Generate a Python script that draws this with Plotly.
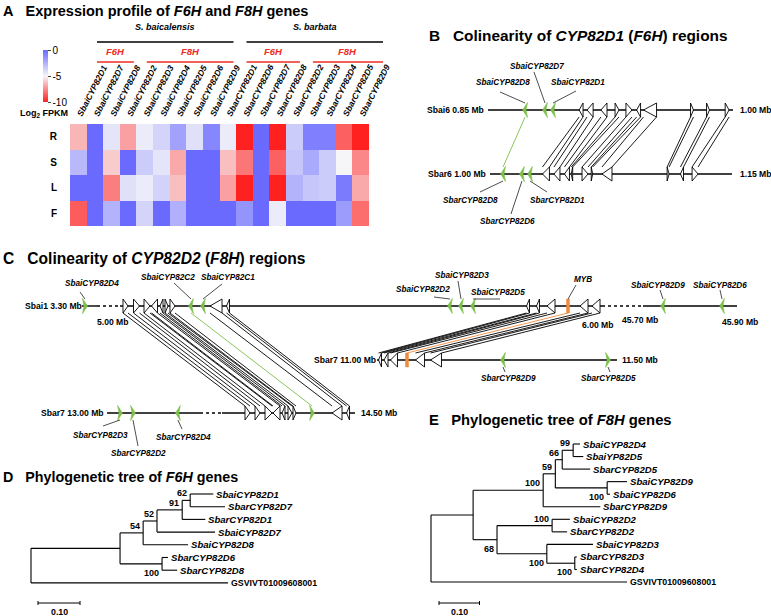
import plotly.graph_objects as go

FONT = "Liberation Sans, Arial, Helvetica, sans-serif"
W, H = 771, 616

# ======================= DATA =======================
# ---- Panel A: expression heatmap (log2 FPKM) ----
tissues = ["R", "S", "L", "F"]
heat_genes = ["SbaiCYP82D1", "SbaiCYP82D7", "SbaiCYP82D8", "SbaiCYP82D2", "SbaiCYP82D3",
              "SbaiCYP82D4", "SbaiCYP82D5", "SbaiCYP82D6", "SbaiCYP82D9",
              "SbarCYP82D1", "SbarCYP82D6", "SbarCYP82D7", "SbarCYP82D8", "SbarCYP82D2",
              "SbarCYP82D3", "SbarCYP82D4", "SbarCYP82D5", "SbarCYP82D9"]
fpkm_R = [-6.5, 0.0, -4.4, -7.0, -4.6, -3.8, -2.0, -4.2, -1.0, -4.6, -10.0, 0.0, -10.0, -3.5, -0.8, -0.8, -8.5, -10.0]
fpkm_S = [-2.8, 0.0, -6.0, 0.0, -3.5, -4.4, -6.8, 0.0, 0.0, -6.3, -8.0, 0.0, -8.5, -3.3, -2.3, -3.5, -5.0, -7.6]
fpkm_L = [0.0, 0.0, -7.8, -4.2, -4.6, -3.7, -6.3, 0.0, 0.0, -7.0, -10.0, 0.0, -10.0, -2.6, -3.3, -3.5, -0.6, -6.8]
fpkm_F = [-8.6, 0.0, -2.6, 0.0, -3.8, 0.0, -2.5, 0.0, 0.0, 0.0, -1.5, 0.0, -4.6, 0.0, 0.0, 0.0, -1.8, -8.2]
species_groups = [("S. baicalensis", 0, 8), ("S. barbata", 9, 17)]
family_groups = [("F6H", 0, 2), ("F8H", 3, 8), ("F6H", 9, 12), ("F8H", 13, 17)]
cbar_ticks = [0, -5, -10]

# ---- Panels B/C: gene positions (name, Mb, length kb, strand, kind g=CYP82 w=other o=MYB) ----
sbai6_genes = [
    ("SbaiCYP82D8", 0.8727, 3.0, -1, "g"), ("SbaiCYP82D7", 0.8849, 3.0, -1, "g"),
    ("SbaiCYP82D1", 0.8898, 3.0, -1, "g"),
    ("", 0.9070, 2.4, -1, "w"), ("", 0.9125, 3.7, -1, "w"), ("", 0.9210, 3.7, -1, "w"),
    ("", 0.9290, 2.4, 1, "w"), ("", 0.9363, 3.7, 1, "w"), ("", 0.9422, 2.4, -1, "w"),
    ("", 0.9492, 8.0, -1, "w"), ("", 0.9749, 1.8, 1, "w"), ("", 0.9847, 1.8, 1, "w"),
    ("", 0.9964, 2.4, 1, "w"),
]
sbar6_genes = [
    ("SbarCYP82D8", 1.0081, 3.0, -1, "g"), ("SbarCYP82D6", 1.0198, 3.0, -1, "g"),
    ("SbarCYP82D1", 1.0248, 3.0, -1, "g"),
    ("", 1.0347, 4.3, -1, "w"), ("", 1.0415, 3.7, -1, "w"), ("", 1.0477, 3.1, -1, "w"),
    ("", 1.0508, 0.9, -1, "w"), ("", 1.0589, 3.7, 1, "w"), ("", 1.0632, 0.9, 1, "w"),
    ("", 1.0725, 6.2, -1, "w"), ("", 1.1104, 1.2, 1, "w"), ("", 1.1190, 1.9, -1, "w"),
    ("", 1.1271, 3.7, 1, "w"),
]
links_B = [(0, 0), (3, 3), (4, 4), (5, 5), (6, 6), (7, 7), (8, 8), (9, 9), (10, 10), (11, 11), (12, 12)]

sbai1_genes = [
    ("SbaiCYP82D4", 3.306, 10, 1, "g"),
    ("", 5.0114, 10.4, 1, "w"), ("", 5.0342, 12.4, 1, "w"), ("", 5.0560, 12.4, 1, "w"),
    ("", 5.0716, 12.4, -1, "w"), ("", 5.0861, 6.2, -1, "w"), ("", 5.0965, 6.2, 1, "w"),
    ("", 5.1089, 10.4, 1, "w"),
    ("SbaiCYP82C2", 5.1473, 10, -1, "g"), ("SbaiCYP82C1", 5.1722, 10, -1, "g"),
    ("", 5.1992, 24.9, -1, "w"), ("", 5.2241, 6.2, -1, "w"),
    ("SbaiCYP82D2", 5.6846, 10, -1, "g"), ("SbaiCYP82D3", 5.7075, 10, -1, "g"),
    ("SbaiCYP82D5", 5.7324, 10, -1, "g"),
    ("", 5.8465, 6.2, -1, "w"), ("", 5.8672, 6.2, -1, "w"), ("", 5.8942, 16.6, -1, "w"),
    ("MYB", 5.9295, 6.2, 0, "o"),
    ("", 5.9627, 16.6, -1, "w"), ("", 5.9876, 16.6, -1, "w"),
    ("SbaiCYP82D9", 45.7426, 10, -1, "g"), ("SbaiCYP82D6", 45.8681, 10, -1, "g"),
]
sbar7a_genes = [
    ("", 11.0063, 6.2, -1, "w"), ("", 11.0188, 8.3, -1, "w"), ("", 11.0354, 14.6, -1, "w"),
    ("", 11.0625, 6.2, 0, "o"), ("", 11.0896, 18.8, -1, "w"), ("", 11.1229, 22.9, -1, "w"),
    ("SbarCYP82D9", 11.2625, 10, -1, "g"), ("SbarCYP82D5", 11.4813, 10, 1, "g"),
]
sbar7b_genes = [
    ("SbarCYP82D3", 13.0271, 10, 1, "g"), ("SbarCYP82D2", 13.0542, 10, 1, "g"),
    ("SbarCYP82D4", 13.1479, 10, -1, "g"),
    ("", 14.2761, 10.4, 1, "w"), ("", 14.2970, 10.4, 1, "w"), ("", 14.3199, 14.6, 1, "w"),
    ("", 14.3365, 14.6, -1, "w"), ("", 14.3511, 6.2, -1, "w"), ("", 14.3646, 8.3, 1, "w"),
    ("", 14.3740, 6.2, 1, "w"), ("", 14.4105, 10, 1, "g"),
    ("", 14.4626, 20.8, -1, "w"), ("", 14.4855, 6.2, -1, "w"),
]
links_C_b = [(1, 3), (2, 4), (3, 5), (4, 6), (5, 7), (6, 8), (7, 9), (8, 10), (10, 11), (11, 12)]
links_C_a = [(15, 0), (16, 1), (17, 2), (18, 3), (19, 4), (20, 5)]

# ---- Panels D/E: trees (node, parent, branch length, bootstrap) ----
treeD_nodes = ["SbaiCYP82D1", "SbarCYP82D7", "SbarCYP82D1", "SbaiCYP82D7", "SbaiCYP82D8",
               "SbarCYP82D6", "SbarCYP82D8", "GSVIVT01009608001",
               "n62", "n91", "n52", "n54", "n100", "n1", "root"]
treeD_parent = ["n62", "n62", "n91", "n52", "n54", "n100", "n100", "root",
                "n91", "n52", "n54", "n1", "n1", "root", None]
treeD_length = [0.055, 0.083, 0.055, 0.138, 0.107, 0.014, 0.036, 0.469,
                0.019, 0.060, 0.033, 0.055, 0.100, 0.212, 0.0]
treeD_support = [None] * 8 + [62, 91, 52, 54, 100, None, None]

treeE_nodes = ["SbaiCYP82D4", "SbaiYP82D5", "SbarCYP82D5", "SbaiCYP82D9", "SbaiCYP82D6",
               "SbarCYP82D9", "SbaiCYP82D2", "SbarCYP82D2", "SbaiCYP82D3", "SbarCYP82D3",
               "SbarCYP82D4", "GSVIVT01009608001",
               "n99", "n66", "n100a", "n59", "n100b", "n100c", "n100d", "n100e", "n68", "ntop", "root"]
treeE_parent = ["n99", "n99", "n66", "n100a", "n100a", "n100b", "n100c", "n100c", "n100e",
                "n100d", "n100d", "root",
                "n66", "n59", "n59", "n100b", "ntop", "n68", "n100e", "n68", "ntop", "root", None]
treeE_length = [0.017, 0.025, 0.069, 0.049, 0.007, 0.141, 0.044, 0.037, 0.114, 0.005, 0.005, 0.484,
                0.027, 0.017, 0.128, 0.030, 0.173, 0.136, 0.069, 0.123, 0.059, 0.104, 0.0]
treeE_support = [None] * 12 + [99, 66, 100, 59, 100, 100, 100, 100, 68, None, None]

# ======================= LAYOUT CONSTANTS =======================
HX0, HX1, HY0, HY1 = 70, 369, 124, 226
COLW = (HX1 - HX0) / len(heat_genes)
GREEN, ORANGE, RED = "#7cbf4a", "#f08a3c", "#ee2b24"

TRK = {
    "sbai6": dict(y=110, segs=[(0.85, 1.00, 488, 733)]),
    "sbar6": dict(y=174, segs=[(1.00, 1.15, 490, 732)]),
    "sbai1": dict(y=306, segs=[(3.30, 3.33, 82, 97), (5.00, 6.00, 120, 602), (45.70, 45.90, 643, 737)]),
    "sbar7a": dict(y=360, segs=[(11.00, 11.50, 377, 617)]),
    "sbar7b": dict(y=413, segs=[(13.00, 13.194, 107, 200), (14.223, 14.50, 222, 355)]),
}
GENES = {"sbai6": sbai6_genes, "sbar6": sbar6_genes, "sbai1": sbai1_genes,
         "sbar7a": sbar7a_genes, "sbar7b": sbar7b_genes}

fig = go.Figure()
ann = []


def txt(x, y, s, size, xanchor="center", color="black", yanchor="middle"):
    ann.append(dict(x=x, y=y, xref="x2", yref="y2", text=s, showarrow=False,
                    xanchor=xanchor, yanchor=yanchor, borderpad=0,
                    font=dict(family=FONT, size=size, color=color)))


def line_trace(xs, ys, color="black", width=1.0, dash="solid"):
    fig.add_trace(go.Scatter(x=xs, y=ys, mode="lines", xaxis="x2", yaxis="y2",
                             line=dict(color=color, width=width, dash=dash),
                             hoverinfo="skip", connectgaps=False))


# ======================= PANEL A =======================
fig.add_trace(go.Heatmap(
    z=[fpkm_R, fpkm_S, fpkm_L, fpkm_F], x=list(range(len(heat_genes))), y=list(range(len(tissues))),
    zmin=-10, zmax=0,
    colorscale=[[0, "rgb(255,32,32)"], [0.5, "rgb(246,246,248)"], [1, "rgb(106,106,255)"]],
    colorbar=dict(x=43 / W, xanchor="left", y=1 - 50 / H, yanchor="top", len=52 / H, lenmode="fraction",
                  thickness=5, ticks="outside", ticklen=3, tickwidth=1, outlinewidth=0,
                  xpad=0, ypad=0, tickvals=cbar_ticks, ticktext=[str(v) for v in cbar_ticks],
                  tickfont=dict(family=FONT, size=10, color="black")),
    hoverinfo="skip"))

txt(44, 113, "<b>Log<sub>2</sub> FPKM</b>", 9)

for name, c0, c1 in species_groups:
    xa = HX0 + c0 * COLW + 27
    xb = HX0 + (c1 + 1) * COLW + 14
    line_trace([xa, xb], [42, 42], "black", 1.5)
    txt((xa + xb) / 2, 27, "<b><i>%s</i></b>" % name, 9)
for name, c0, c1 in family_groups:
    xa = HX0 + c0 * COLW + 27
    xb = HX0 + (c1 + 1) * COLW + 14
    line_trace([xa, xb], [62, 62], RED, 1.5)
    txt((xa + xb) / 2, 51, "<b><i>%s</i></b>" % name, 9.5, color=RED)


# ======================= PANELS B & C (tracks) =======================
def mb2px(track, mb):
    segs = TRK[track]["segs"]
    for m0, m1, p0, p1 in segs:
        if m0 - 1e-6 <= mb <= m1 + 1e-6:
            return p0 + (mb - m0) / (m1 - m0) * (p1 - p0), (p1 - p0) / ((m1 - m0) * 1000.0)
    m0, m1, p0, p1 = segs[-1]
    return p0 + (mb - m0) / (m1 - m0) * (p1 - p0), (p1 - p0) / ((m1 - m0) * 1000.0)


def gene_geom(track, i):
    name, mb, kb, strand, kind = GENES[track][i]
    xc, ppk = mb2px(track, mb)
    w = max(kb * ppk, 1.3)
    return xc, w, strand, kind


solid_x, solid_y, dot_x, dot_y = [], [], [], []
for tk, t in TRK.items():
    segs = t["segs"]
    for k, (m0, m1, p0, p1) in enumerate(segs):
        solid_x += [p0, p1, None]
        solid_y += [t["y"], t["y"], None]
        if k + 1 < len(segs):
            dot_x += [p1, segs[k + 1][2], None]
            dot_y += [t["y"], t["y"], None]
line_trace(solid_x, solid_y, "black", 1.4)
line_trace(dot_x, dot_y, "black", 1.4, "dot")

# links
lk = {"black": ([], []), GREEN: ([], []), ORANGE: ([], [])}
for top, bot, pairs in [("sbai6", "sbar6", links_B), ("sbai1", "sbar7b", links_C_b), ("sbai1", "sbar7a", links_C_a)]:
    yt, yb = TRK[top]["y"] + 7, TRK[bot]["y"] - 7
    for a, b in pairs:
        xa, wa, _, ka = gene_geom(top, a)
        xb, wb, _, kb_ = gene_geom(bot, b)
        if ka == "w":
            for s in (-0.5, 0.5):
                lk["black"][0].extend([xa + s * wa, xb + s * wb, None])
                lk["black"][1].extend([yt, yb, None])
        else:
            col = GREEN if ka == "g" else ORANGE
            lk[col][0].extend([xa, xb, None])
            lk[col][1].extend([yt, yb, None])
for col, (xs, ys) in lk.items():
    line_trace(xs, ys, col, 0.9)

# gene glyphs
polys = {"w": ([], []), "g": ([], []), "o": ([], [])}
for tk in GENES:
    y = TRK[tk]["y"]
    for i in range(len(GENES[tk])):
        xc, w, strand, kind = gene_geom(tk, i)
        x0, x1 = xc - w / 2, xc + w / 2
        if kind == "o":
            xs, ys = [xc - 1.5, xc + 1.5, xc + 1.5, xc - 1.5, xc - 1.5], [y - 7, y - 7, y + 7, y + 7, y - 7]
        elif kind == "g":
            h = 7.5
            back, tip = (x0, x1) if strand >= 0 else (x1, x0)
            notch = back + (tip - back) * 0.3
            xs, ys = [back, tip, back, notch, back], [y - h, y, y + h, y, y - h]
        else:
            h = 7
            back, tip = (x0, x1) if strand >= 0 else (x1, x0)
            xs, ys = [back, tip, back, back], [y - h, y, y + h, y - h]
        polys[kind][0].extend(xs + [None])
        polys[kind][1].extend(ys + [None])
for kind, fillc, linec, lw in [("w", "white", "black", 0.9), ("g", GREEN, GREEN, 0.6), ("o", ORANGE, ORANGE, 0.5)]:
    fig.add_trace(go.Scatter(x=polys[kind][0], y=polys[kind][1], mode="lines", fill="toself",
                             fillcolor=fillc, line=dict(color=linec, width=lw),
                             xaxis="x2", yaxis="y2", hoverinfo="skip"))

# gene labels: (track, gene index, label x, label y, leader start x, leader start y, side)
gene_labels = [
    ("sbai6", 0, 503, 82, 500, 92, "top"), ("sbai6", 1, 537, 66, 534, 72, "top"),
    ("sbai6", 2, 578, 82, 576, 91, "top"),
    ("sbar6", 0, 470, 200, 480, 192, "bot"), ("sbar6", 2, 557, 200, 547, 192, "bot"),
    ("sbar6", 1, 507, 221, 511, 214, "bot"),
    ("sbai1", 0, 92, 283, 80, 292, "top"), ("sbai1", 8, 168, 277, 174, 283, "top"),
    ("sbai1", 9, 228, 277, 222, 284, "top"), ("sbai1", 12, 423, 289, 434, 297, "top"),
    ("sbai1", 13, 462, 275, 458, 281, "top"), ("sbai1", 14, 498, 292, 500, 299, "top"),
    ("sbai1", 18, 583, 279, 576, 285, "top"), ("sbai1", 21, 658, 285, 660, 290, "top"),
    ("sbai1", 22, 720, 285, 720, 290, "top"),
    ("sbar7a", 6, 508, 378, 505, 372, "bot"), ("sbar7a", 7, 608, 378, 610, 372, "bot"),
    ("sbar7b", 0, 100, 435, 103, 426, "bot"), ("sbar7b", 1, 138, 453, 138, 446, "bot"),
    ("sbar7b", 2, 183, 437, 182, 429, "bot"),
]
lx, ly = [], []
for tk, gi, tx, ty, sx, sy, side in gene_labels:
    xc, w, strand, kind = gene_geom(tk, gi)
    yg = TRK[tk]["y"] + (-7 if side == "top" else 7)
    lx += [sx, xc, None]
    ly += [sy, yg, None]
    txt(tx, ty, "<b><i>%s</i></b>" % GENES[tk][gi][0], 8.2)
line_trace(lx, ly, "black", 0.7)

# track labels
for s, x, y, xa in [("Sbai6 0.85 Mb", 485, 110, "right"), ("1.00 Mb", 739, 110, "left"),
                    ("Sbar6 1.00 Mb", 487, 174, "right"), ("1.15 Mb", 739, 174, "left"),
                    ("Sbai1 3.30 Mb", 83, 306, "right"), ("5.00 Mb", 113, 322, "center"),
                    ("6.00 Mb", 598, 325, "center"), ("45.70 Mb", 640, 320, "center"),
                    ("45.90 Mb", 740, 322, "center"), ("Sbar7 11.00 Mb", 377, 360, "right"),
                    ("11.50 Mb", 621, 360, "left"), ("Sbar7 13.00 Mb", 105, 413, "right"),
                    ("14.50 Mb", 360, 413, "left")]:
    txt(x, y, "<b>%s</b>" % s, 8.6, xanchor=xa)


# ======================= PANELS D & E (trees) =======================
def draw_tree(names, parents, lengths, support, below, x0, y0, dy, scale):
    idx = {n: i for i, n in enumerate(names)}
    children = {n: [] for n in names}
    for n, p in zip(names, parents):
        if p is not None:
            children[p].append(n)
    X, Y = {}, {}

    def getx(n):
        if n not in X:
            p = parents[idx[n]]
            X[n] = x0 if p is None else getx(p) + lengths[idx[n]] * scale
        return X[n]

    k = 0
    for n in names:
        if not children[n]:
            Y[n] = y0 + k * dy
            k += 1

    def gety(n):
        if n not in Y:
            ys = [gety(c) for c in children[n]]
            Y[n] = (min(ys) + max(ys)) / 2
        return Y[n]

    xs, ys = [], []
    for n in names:
        getx(n), gety(n)
    for n in names:
        p = parents[idx[n]]
        if p is not None:
            xs += [X[p], X[n], None]
            ys += [Y[n], Y[n], None]
        if children[n]:
            cy = [Y[c] for c in children[n]]
            xs += [X[n], X[n], None]
            ys += [min(cy), max(cy), None]
    line_trace(xs, ys, "black", 1.1)
    for n in names:
        i = idx[n]
        if not children[n]:
            if n.startswith("GSV"):
                txt(X[n] + 2, Y[n], "<b>%s</b>" % n, 8.8, xanchor="left")
            else:
                txt(X[n] + 2, Y[n], "<b><i>%s</i></b>" % n, 9.6, xanchor="left")
        elif support[i] is not None:
            off = 9 if n in below else -7
            txt(X[n] - 2, Y[n] + off, "<b>%d</b>" % support[i], 9, xanchor="right")


draw_tree(treeD_nodes, treeD_parent, treeD_length, treeD_support, {"n100"}, 31, 494, 12.7, 420)
draw_tree(treeE_nodes, treeE_parent, treeE_length, treeE_support,
          {"n100a", "n100d", "n100e", "n68"}, 431, 444, 12.55, 405)

# scale bars (0.10 substitutions)
for sx, sc in [(38, 420), (439, 405)]:
    L = 0.10 * sc
    line_trace([sx, sx + L, None, sx, sx, None, sx + L, sx + L],
               [603, 603, None, 601, 605, None, 601, 605], "black", 1.0)
    txt(sx + L / 2, 612, "<b>0.10</b>", 8.8)

# ======================= TITLES =======================
txt(2, 11, "<b>A\u00a0\u00a0 Expression profile of <i>F6H</i> and <i>F8H</i> genes</b>", 14.5, xanchor="left")
txt(428, 35, "<b>B\u00a0\u00a0 Colinearity of <i>CYP82D1</i> (<i>F6H</i>) regions</b>", 15.4, xanchor="left")
txt(2, 258, "<b>C\u00a0\u00a0 Colinearity of <i>CYP82D2</i> (<i>F8H</i>) regions</b>", 15.6, xanchor="left")
txt(2, 477, "<b>D\u00a0\u00a0 Phylogenetic tree of <i>F6H</i> genes</b>", 14.3, xanchor="left")
txt(428, 420, "<b>E\u00a0\u00a0 Phylogenetic tree of <i>F8H</i> genes</b>", 14.8, xanchor="left")

fig.update_layout(
    width=W, height=H, margin=dict(l=0, r=0, t=0, b=0, autoexpand=False),
    paper_bgcolor="white", plot_bgcolor="rgba(0,0,0,0)", showlegend=False,
    annotations=ann,
    xaxis=dict(domain=[HX0 / W, HX1 / W], range=[-0.5, len(heat_genes) - 0.5], side="top",
               tickvals=list(range(len(heat_genes))),
               ticktext=["<b><i>%s</i></b>" % g for g in heat_genes],
               tickangle=-63, showgrid=False, zeroline=False, ticks="", showline=False,
               ticklabelstandoff=2, tickfont=dict(family=FONT, size=8.5, color="black")),
    yaxis=dict(domain=[1 - HY1 / H, 1 - HY0 / H], range=[len(tissues) - 0.5, -0.5],
               tickvals=list(range(len(tissues))), ticktext=["<b>%s</b>" % t for t in tissues],
               showgrid=False, zeroline=False, ticks="", showline=False, ticklabelstandoff=12,
               tickfont=dict(family=FONT, size=10, color="black")),
    xaxis2=dict(domain=[0, 1], range=[0, W], visible=False, anchor="y2", fixedrange=True),
    yaxis2=dict(domain=[0, 1], range=[H, 0], visible=False, anchor="x2", fixedrange=True),
)
fig.write_html("out.html", config={"displayModeBar": False},
               post_script="document.body.style.margin='0';document.body.style.padding='0';")
